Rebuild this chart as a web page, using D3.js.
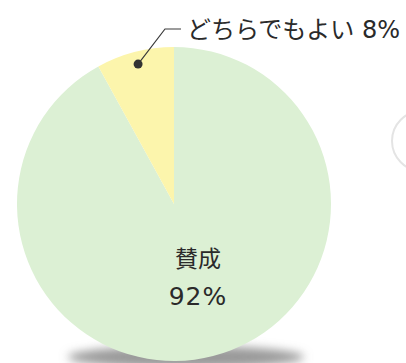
<!DOCTYPE html>
<html>
<head>
<meta charset="utf-8">
<script src="https://cdn.jsdelivr.net/npm/d3@7"></script>
<style>
  body { margin: 0; background: #fff; }
  svg { display: block; }
  text { font-family: "DejaVu Sans", "Noto Sans CJK JP", sans-serif; fill: #2a2a2a; }
</style>
</head>
<body>
<svg width="406" height="363"></svg>
<script>
// data
var categories = ["賛成", "どちらでもよい"];
var values = [92, 8];
var colors = ["#dcf0d4", "#fcf5ac"];

var svg = d3.select("svg");
var cx = 174, cy = 204, radius = 157;

var defs = svg.append("defs");
defs.append("filter").attr("id", "blur")
    .attr("x", "-20%").attr("y", "-100%").attr("width", "140%").attr("height", "300%")
  .append("feGaussianBlur").attr("stdDeviation", 5);

// faint circle at right edge
svg.append("circle")
    .attr("cx", 422).attr("cy", 141).attr("r", 30)
    .attr("fill", "none").attr("stroke", "#e4e4e4").attr("stroke-width", 2);

// shadow under the pie
svg.append("ellipse")
    .attr("cx", cx + 12).attr("cy", cy + radius - 4)
    .attr("rx", 118).attr("ry", 11)
    .attr("fill", "#9a9a9a")
    .attr("filter", "url(#blur)");

var pie = d3.pie().sort(null).value(function(d) { return d; });
var arcs = pie(values);

var arc = d3.arc().innerRadius(0).outerRadius(radius);

var g = svg.append("g").attr("transform", "translate(" + cx + "," + cy + ")");

g.selectAll("path.slice")
    .data(arcs)
  .enter().append("path")
    .attr("class", "slice")
    .attr("d", arc)
    .attr("fill", function(d, i) { return colors[i]; });

// label for the big slice
var big = g.append("text").attr("text-anchor", "middle");
big.append("tspan").attr("x", 24).attr("y", 63).style("font-size", "23px").text(categories[0]);
big.append("tspan").attr("x", 24).attr("y", 101).style("font-size", "25px").style("letter-spacing", "1px").text(values[0] + "%");

// leader for the small slice
var dotArc = d3.arc().innerRadius(radius * 0.92).outerRadius(radius * 0.92);
var p = dotArc.centroid(arcs[1]);
var elbow = [165 - cx, 29 - cy], end = [181 - cx, 29 - cy];

g.append("polyline")
    .attr("points", [p, elbow, end].map(function(q) { return q.join(","); }).join(" "))
    .attr("fill", "none")
    .attr("stroke", "#3a3a3a")
    .attr("stroke-width", 1.2);

g.append("circle")
    .attr("cx", p[0]).attr("cy", p[1]).attr("r", 4.5)
    .attr("fill", "#333");

g.append("text")
    .attr("x", end[0] + 6)
    .attr("y", end[1] + 9)
    .style("font-size", "24px")
    .text(categories[1] + " " + values[1] + "%");
</script>
</body>
</html>
